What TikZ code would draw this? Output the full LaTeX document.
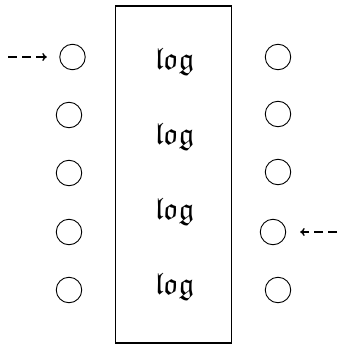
\documentclass[tikz,border=0pt]{standalone}
\usepackage{amssymb}
\usetikzlibrary{arrows.meta}
\begin{document}
\begin{tikzpicture}[x=1pt,y=-1pt,
  unit/.style={circle,draw,line width=0.9pt,minimum size=25.5pt,inner sep=0pt},
  lbl/.style={inner sep=0pt,font=\fontsize{31}{36}\selectfont},
  feed/.style={dash pattern=on 9pt off 5pt,-{To[length=4.5pt,width=8pt,line width=1.4pt]},line width=1.2pt}]
\useasboundingbox (0,0) rectangle (337,345);
\node[draw,line width=1.6pt,minimum width=116pt,minimum height=337pt,inner sep=0pt] (box) at (173.5,174.5) {};
\node[unit] (l1) at (72.5,57) {};
\node[unit] (l2) at (69,115) {};
\node[unit] (l3) at (69,173) {};
\node[unit] (l4) at (69,232) {};
\node[unit] (l5) at (69,290) {};
\node[unit] (r1) at (278,57) {};
\node[unit] (r2) at (278,114) {};
\node[unit] (r3) at (278,172) {};
\node[unit] (r4) at (273,232) {};
\node[unit] (r5) at (278,290) {};
\foreach \i/\y in {1/62,2/137,3/212,4/287}{
  \node[lbl] (g\i) at (174.5,\y) {$\mathfrak{log}$};
}
\coordinate (ain) at (8,57);
\coordinate (bin) at (337,232);
\draw[feed,shorten >=12.5pt] (ain) -- (l1.west);
\draw[feed,shorten >=14pt] (bin) -- (r4.east);
\end{tikzpicture}
\end{document}
